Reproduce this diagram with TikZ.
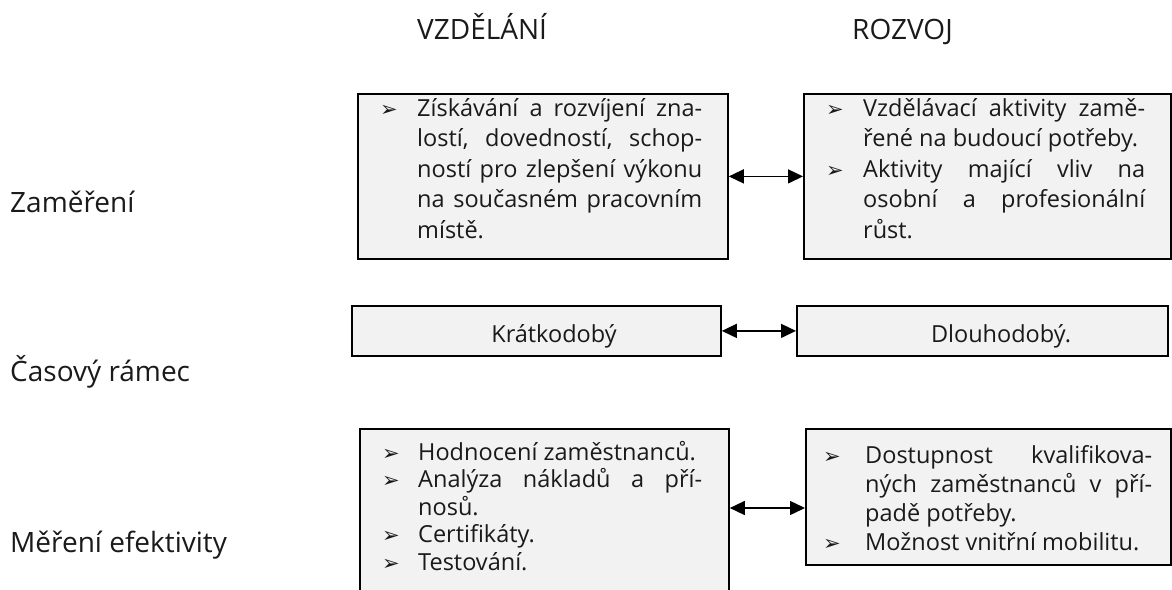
\documentclass[tikz,border=0pt]{standalone}
\usepackage{fontspec}
\setmainfont{Open Sans}
\newfontfamily\symfont{DejaVu Sans}
\usetikzlibrary{arrows.meta}
\definecolor{boxgray}{HTML}{F2F2F2}
\definecolor{ink}{HTML}{1A1A1A}
\newdimen\tw
\newcommand{\bul}[1]{\hbox to #1{\symfont\fontsize{21}{21}\selectfont ➢\hfil}}
\newcommand{\jl}[1]{\hbox to \tw{#1}}
\newcommand{\el}[1]{\hbox to \tw{#1\hfil}}

\tikzset{
	box/.style={draw=black, line width=1.8pt, fill=boxgray, inner sep=0pt, anchor=north west},
	arr/.style={{Triangle[length=15pt,width=14pt]}-{Triangle[length=15pt,width=14pt]}, line width=1.4pt},
	head/.style={anchor=base west, inner sep=0pt, text=ink, font=\fontsize{28}{34}\selectfont},
	body/.style={anchor=base west, inner sep=0pt, text=ink, font=\fontsize{23.5}{30}\selectfont},
}

\begin{document}
\begin{tikzpicture}[x=1pt, y=-1pt]
		%%%%% START %%%%%
		\clip (0, 0) rectangle (1172, 589);
		
		\node[head] (hvz) at (417, 39) {VZDĚLÁNÍ};
		\node[head] (hro) at (852, 39) {ROZVOJ};
		
		\node[head] (lzam) at (10, 212) {Zaměření};
		\node[head] (lcas) at (10, 381) {Časový rámec};
		\node[head] (lmer) at (10, 552) {Měření efektivity};
		
		% zamereni
		\node[box, minimum width=370pt, minimum height=165pt] (vz1) at (357, 93) {};
		\node[box, minimum width=367pt, minimum height=165pt] (ro1) at (803, 93) {};
		\draw[arr] (vz1) -- (ro1);
		
		\node[body] (tvz1) at (380, 116) {\vtop{\tw=285pt \baselineskip=30.5pt
				\hbox{\bul{37pt}\jl{Získávání a rozvíjení zna-}}
				\hbox{\hskip37pt\jl{lostí, dovedností, schop-}}
				\hbox{\hskip37pt\jl{ností pro zlepšení výkonu}}
				\hbox{\hskip37pt\jl{na současném pracovním}}
				\hbox{\hskip37pt\el{místě.}}}};
		\node[body] (tro1) at (826, 116) {\vtop{\tw=282pt \baselineskip=30.5pt
				\hbox{\bul{37pt}\jl{Vzdělávací aktivity zamě-}}
				\hbox{\hskip37pt\el{řené na budoucí potřeby.}}
				\hbox{\bul{37pt}\jl{Aktivity mající vliv na}}
				\hbox{\hskip37pt\jl{osobní a profesionální}}
				\hbox{\hskip37pt\el{růst.}}}};
		
		% casovy ramec
		\node[box, minimum width=369pt, minimum height=50pt] (vz2) at (351, 305) {};
		\node[box, minimum width=371pt, minimum height=50pt] (ro2) at (796, 305) {};
		\draw[arr] (vz2) -- (ro2);
		\node[body, anchor=base] (tvz2) at (554, 342) {Krátkodobý};
		\node[body, anchor=base] (tro2) at (1001, 342) {Dlouhodobý.};
		
		% mereni efektivity
		\node[box, minimum width=369pt, minimum height=200pt] (vz3) at (359, 428) {};
		\node[box, minimum width=365pt, minimum height=136pt] (ro3) at (805, 428) {};
		\coordinate (m3) at (766, 508);
		\draw[arr] (vz3.east |- m3) -- (ro3.west |- m3);
		
		\node[body] (tvz3) at (382, 460) {\vtop{\tw=284pt \baselineskip=27.5pt
				\hbox{\bul{36pt}\el{Hodnocení zaměstnanců.}}
				\hbox{\bul{36pt}\jl{Analýza nákladů a pří-}}
				\hbox{\hskip36pt\el{nosů.}}
				\hbox{\bul{36pt}\el{Certifikáty.}}
				\hbox{\bul{36pt}\el{Testování.}}}};
		\node[body] (tro3) at (823, 463) {\vtop{\tw=287pt \baselineskip=29.3pt
				\hbox{\bul{42pt}\jl{Dostupnost kvalifikova-}}
				\hbox{\hskip42pt\jl{ných zaměstnanců v pří-}}
				\hbox{\hskip42pt\el{padě potřeby.}}
				\hbox{\bul{42pt}\el{Možnost vnitřní mobilitu.}}}};
		
		%%%%% END %%%%%
\end{tikzpicture}
\end{document}
